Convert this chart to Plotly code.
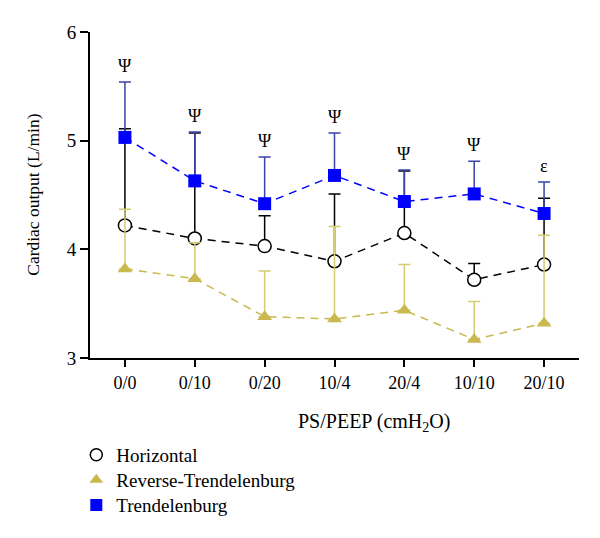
import plotly.graph_objects as go

categories = ["0/0", "0/10", "0/20", "10/4", "20/4", "10/10", "20/10"]

horizontal = [4.22, 4.10, 4.03, 3.89, 4.15, 3.72, 3.86]
horizontal_err = [0.89, 0.97, 0.28, 0.62, 0.57, 0.15, 0.61]

reverse = [3.82, 3.73, 3.38, 3.36, 3.44, 3.17, 3.32]
reverse_err = [0.55, 0.33, 0.42, 0.85, 0.42, 0.35, 0.81]

trend = [5.03, 4.63, 4.42, 4.68, 4.44, 4.51, 4.33]
trend_err = [0.51, 0.45, 0.43, 0.39, 0.29, 0.30, 0.29]

sig_labels = ["Ψ", "Ψ", "Ψ", "Ψ", "Ψ", "Ψ", "ε"]

FONT = "Liberation Serif"
BLACK = "#000000"
GOLD = "#c9b94e"
GOLD_ERR = "#d6ca72"
BLUE = "#0000ff"
BLUE_ERR = "#3a44a8"

fig = go.Figure()

def add_series(y, err, color, err_color, symbol, fill, name, legend):
    fig.add_trace(go.Scatter(
        x=categories, y=y, mode="lines+markers", showlegend=False,
        line=dict(color=color, width=1.5, dash="8px,6px"),
        marker=dict(symbol=symbol, size=13, color=fill,
                    line=dict(color=color, width=1.5 if fill == "white" else 0)),
        error_y=dict(type="data", array=err, symmetric=False,
                     arrayminus=[0] * len(err), color=err_color,
                     thickness=1.5, width=6),
    ))
    fig.add_trace(go.Scatter(
        x=[None], y=[None], mode="markers", name=name, legend=legend,
        marker=dict(symbol=symbol, size=12, color=fill,
                    line=dict(color=color, width=1.5 if fill == "white" else 0)),
    ))

add_series(horizontal, horizontal_err, BLACK, BLACK, "circle", "white", "Horizontal", "legend")
add_series(reverse, reverse_err, GOLD, GOLD_ERR, "triangle-up", GOLD, "Reverse-Trendelenburg", "legend2")
add_series(trend, trend_err, BLUE, BLUE_ERR, "square", BLUE, "Trendelenburg", "legend3")

for c, v, e, s in zip(categories, trend, trend_err, sig_labels):
    fig.add_annotation(x=c, y=v + e, text=s, showarrow=False, yanchor="bottom",
                       yshift=4, font=dict(family=FONT, size=18, color="black"))

fig.add_annotation(xref="paper", yref="paper", x=0.581, y=-0.199,
                   xanchor="center", yanchor="middle", showarrow=False,
                   text="PS/PEEP (cmH<sub>2</sub>O)",
                   font=dict(family=FONT, size=20, color="black"))
fig.add_annotation(xref="paper", yref="paper", x=-0.117, y=0.5,
                   xanchor="center", yanchor="middle", showarrow=False,
                   textangle=-90, text="Cardiac output (L/min)",
                   font=dict(family=FONT, size=17.5, color="black"))

def leg(y):
    return dict(x=-0.028, y=y, xanchor="left", yanchor="middle",
                font=dict(family=FONT, size=19), bgcolor="rgba(0,0,0,0)")

fig.update_layout(
    width=592, height=530,
    margin=dict(l=82, r=21, t=24, b=180, autoexpand=False),
    plot_bgcolor="white", paper_bgcolor="white",
    font=dict(family=FONT, size=18, color="black"),
    legend=leg(-0.2975),
    legend2=leg(-0.374),
    legend3=leg(-0.451),
    xaxis=dict(type="category", range=[-0.5, 6.5], showline=True,
               linecolor="black", linewidth=2, ticks="outside", ticklen=7,
               tickwidth=1.5, tickcolor="black", showgrid=False, zeroline=False,
               tickfont=dict(family=FONT, size=18)),
    yaxis=dict(range=[3, 6], tickvals=[3, 4, 5, 6], showline=True,
               linecolor="black", linewidth=2, ticks="outside", ticklen=8,
               tickwidth=1.5, tickcolor="black", showgrid=False, zeroline=False,
               tickfont=dict(family=FONT, size=19)),
)

fig.write_html("out.html")
